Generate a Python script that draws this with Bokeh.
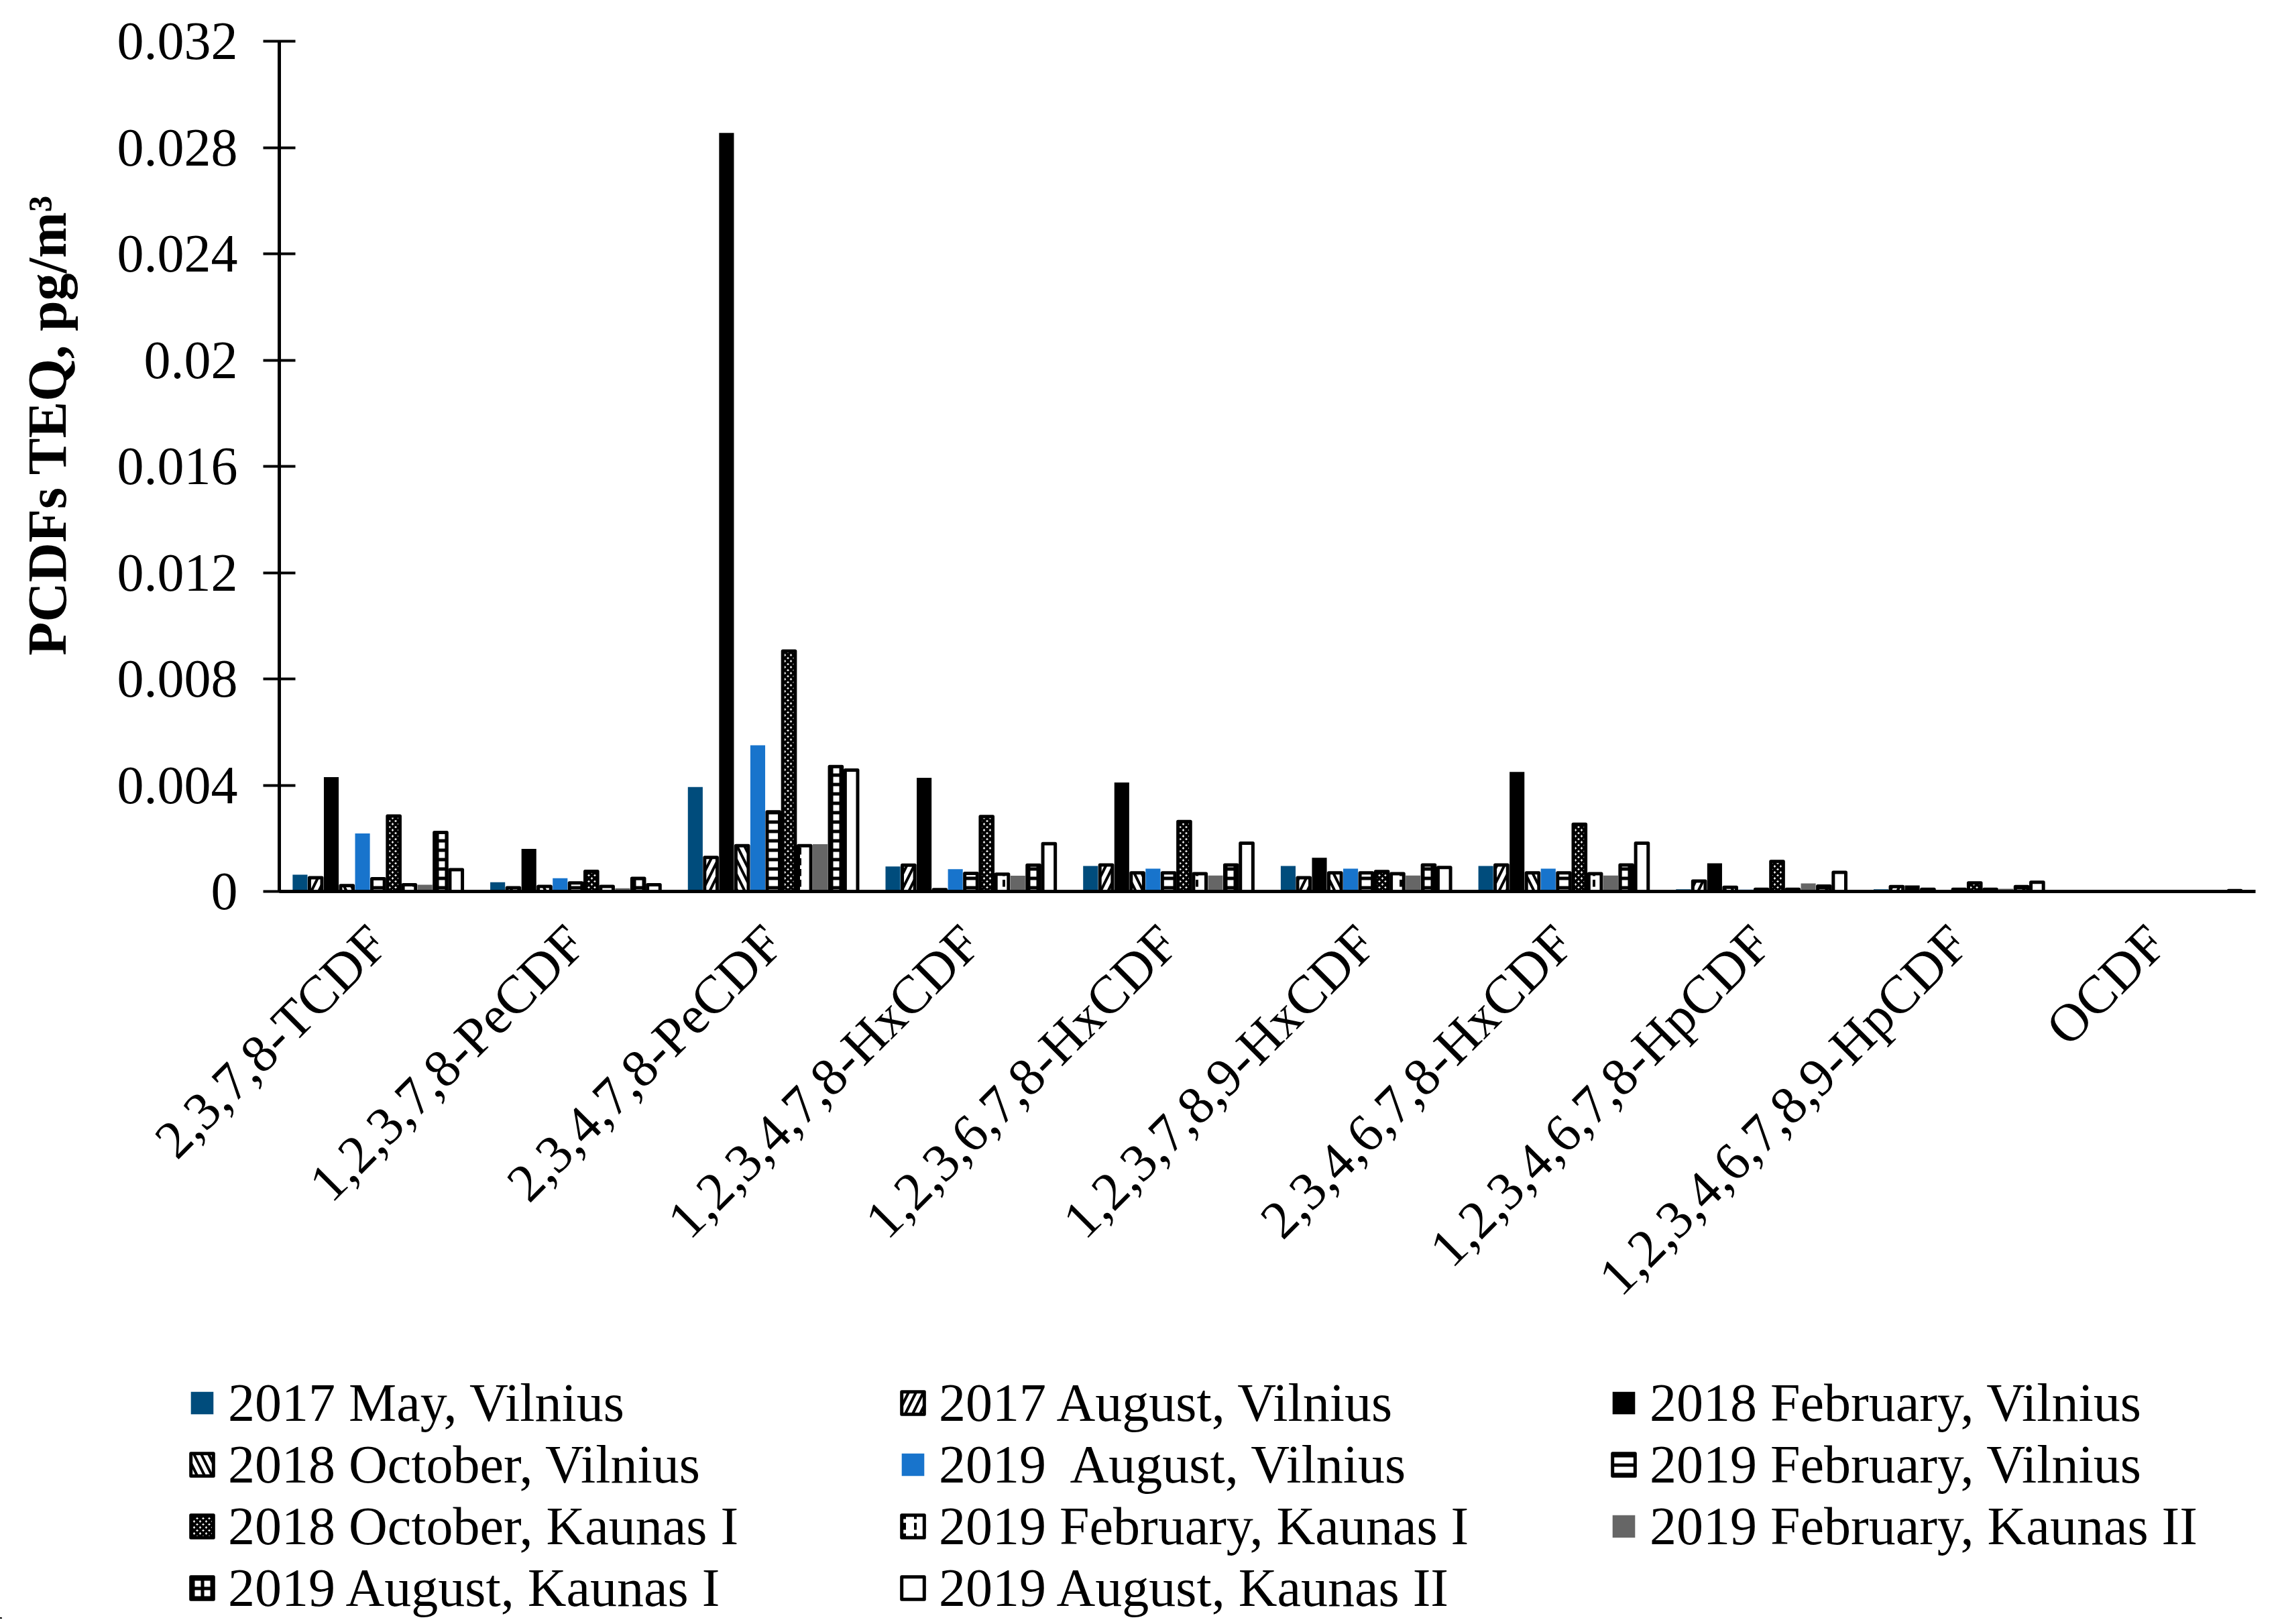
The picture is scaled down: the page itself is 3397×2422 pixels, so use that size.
from bokeh.plotting import figure
from bokeh.models import Range1d, FixedTicker, Legend, LegendItem
from bokeh.embed import file_html
from bokeh.resources import INLINE
from math import pi

congeners = ["2,3,7,8-TCDF", "1,2,3,7,8-PeCDF", "2,3,4,7,8-PeCDF", "1,2,3,4,7,8-HxCDF",
             "1,2,3,6,7,8-HxCDF", "1,2,3,7,8,9-HxCDF", "2,3,4,6,7,8-HxCDF",
             "1,2,3,4,6,7,8-HpCDF", "1,2,3,4,6,7,8,9-HpCDF", "OCDF"]

series_names = ["2017 May, Vilnius", "2017 August, Vilnius", "2018 February, Vilnius",
                "2018 October, Vilnius", "2019  August, Vilnius", "2019 February, Vilnius",
                "2018 October, Kaunas I", "2019 February, Kaunas I", "2019 February, Kaunas II",
                "2019 August, Kaunas I", "2019 August, Kaunas II"]

may2017_vil = [0.00063, 0.00035, 0.00393, 0.00094, 0.00096, 0.00096, 0.00096, 0.00008, 0.00008, 0.0]
aug2017_vil = [0.00052, 0.00014, 0.00128, 0.00099, 0.00100, 0.00052, 0.00100, 0.00039, 0.00018, 0.0]
feb2018_vil = [0.00430, 0.00160, 0.02855, 0.00428, 0.00410, 0.00127, 0.00450, 0.00106, 0.00023, 0.00003]
oct2018_vil = [0.00022, 0.00019, 0.00172, 0.00007, 0.00070, 0.00070, 0.00070, 0.00016, 0.00008, 0.0]
aug2019_vil = [0.00218, 0.00050, 0.00550, 0.00084, 0.00086, 0.00086, 0.00086, 0.00007, 0.00005, 0.0]
feb2019_vil = [0.00048, 0.00032, 0.00300, 0.00068, 0.00070, 0.00070, 0.00070, 0.00008, 0.00008, 0.0]
oct2018_kau1 = [0.00284, 0.00076, 0.00905, 0.00282, 0.00263, 0.00075, 0.00253, 0.00113, 0.00032, 0.0]
feb2019_kau1 = [0.00025, 0.00019, 0.00172, 0.00065, 0.00067, 0.00067, 0.00067, 0.00008, 0.00008, 0.0]
feb2019_kau2 = [0.00025, 0.00012, 0.00178, 0.00059, 0.00060, 0.00060, 0.00060, 0.00030, 0.00010, 0.0]
aug2019_kau1 = [0.00222, 0.00049, 0.00470, 0.00099, 0.00100, 0.00100, 0.00100, 0.00020, 0.00018, 0.0]
aug2019_kau2 = [0.00082, 0.00025, 0.00457, 0.00180, 0.00182, 0.00090, 0.00182, 0.00072, 0.00035, 0.00003]

all_series = [may2017_vil, aug2017_vil, feb2018_vil, oct2018_vil, aug2019_vil, feb2019_vil,
              oct2018_kau1, feb2019_kau1, feb2019_kau2, aug2019_kau1, aug2019_kau2]

y_ticks = [0, 0.004, 0.008, 0.012, 0.016, 0.02, 0.024, 0.028, 0.032]
y_tick_labels = ["0", "0.004", "0.008", "0.012", "0.016", "0.02", "0.024", "0.028", "0.032"]

styles = [
    dict(fill="#004C7C", hatch=None, outline=False),
    dict(fill="white", hatch="/", scale=22, weight=4, outline=True),
    dict(fill="black", hatch=None, outline=False),
    dict(fill="white", hatch="\\", scale=22, weight=4, outline=True),
    dict(fill="#1874CC", hatch=None, outline=False),
    dict(fill="white", hatch="-", scale=14, weight=5, outline=True),
    dict(fill="white", hatch="x", scale=9, weight=4, outline=True),
    dict(fill="white", hatch=":", scale=16, weight=4, outline=True),
    dict(fill="#666666", hatch=None, outline=False),
    dict(fill="white", hatch="+", scale=14, weight=5, outline=True),
    dict(fill="white", hatch=None, outline=True),
]

FONT = "Liberation Serif"
W = 3381
H_MAIN = 2046
H_LEG = 368


def style_kw(st):
    kw = dict(fill_color=st["fill"])
    if st["outline"]:
        kw.update(line_color="black", line_width=5, line_join="round")
    else:
        kw.update(line_color=None)
    if st.get("hatch"):
        kw.update(hatch_pattern=st["hatch"], hatch_color="black",
                  hatch_scale=st["scale"], hatch_weight=st["weight"])
    return kw


p = figure(width=W, height=H_MAIN, output_backend="svg", toolbar_location=None,
           x_range=Range1d(0, 10), y_range=Range1d(0, 0.032),
           min_border_left=416, min_border_right=18, min_border_top=61, min_border_bottom=717)
p.outline_line_color = None
p.xgrid.visible = False
p.ygrid.visible = False

n = len(all_series)
group_frac = 0.869
w = group_frac / n
for j, (vals, st) in enumerate(zip(all_series, styles)):
    xs = [i + 0.5 + (j - (n - 1) / 2) * w for i in range(len(congeners))]
    bw = w * (0.80 if st["outline"] else 0.95)
    p.vbar(x=xs, top=vals, bottom=0, width=bw, **style_kw(st))

ya = p.yaxis[0]
ya.ticker = FixedTicker(ticks=y_ticks)
ya.major_label_overrides = {t: l for t, l in zip(y_ticks, y_tick_labels)}
ya.minor_tick_line_color = None
ya.major_tick_in = 24
ya.major_tick_out = 24
ya.major_tick_line_width = 4
ya.axis_line_width = 5
ya.axis_line_color = "black"
ya.major_tick_line_color = "black"
ya.major_label_text_font = FONT
ya.major_label_text_font_size = "80px"
ya.major_label_text_color = "black"
ya.major_label_standoff = 38
ya.axis_label = "\u00a0" * 6 + "PCDFs TEQ, pg/m³"
ya.axis_label_text_font = FONT
ya.axis_label_text_font_style = "bold"
ya.axis_label_text_font_size = "82px"
ya.axis_label_text_color = "black"
ya.axis_label_standoff = 56

xa = p.xaxis[0]
xa.ticker = FixedTicker(ticks=[i + 0.5 for i in range(len(congeners))])
xa.major_label_overrides = {i + 0.5: c for i, c in enumerate(congeners)}
xa.major_label_orientation = pi / 4
xa.major_tick_in = 0
xa.major_tick_out = 0
xa.minor_tick_line_color = None
xa.axis_line_width = 5
xa.axis_line_color = "black"
xa.major_label_text_font = FONT
xa.major_label_text_font_size = "80px"
xa.major_label_text_color = "black"
xa.major_label_standoff = 64

# separate legend figure (own root, so its frame is not aligned with the chart's)
lf = figure(width=W, height=H_LEG, output_backend="svg", toolbar_location=None,
            x_range=Range1d(0, 1), y_range=Range1d(0, 1), min_border=0,
            x_axis_location=None, y_axis_location=None)
lf.outline_line_color = None
lf.xgrid.visible = False
lf.ygrid.visible = False
items = []
for nm, st in zip(series_names, styles):
    r = lf.vbar(x=[-5], top=[0], bottom=0, width=0.1, **style_kw(st))
    items.append(LegendItem(label=nm, renderers=[r]))
legend = Legend(items=items, orientation="horizontal", ncols=3,
                location=(280, 0),
                glyph_width=42, glyph_height=42, label_standoff=18,
                label_width=1000, label_height=92, spacing=0, padding=0, margin=0,
                label_text_font=FONT, label_text_font_size="80px", label_text_color="black",
                border_line_color=None, background_fill_alpha=0)
lf.add_layout(legend)

open("out.html", "w").write(file_html([p, lf], INLINE))
